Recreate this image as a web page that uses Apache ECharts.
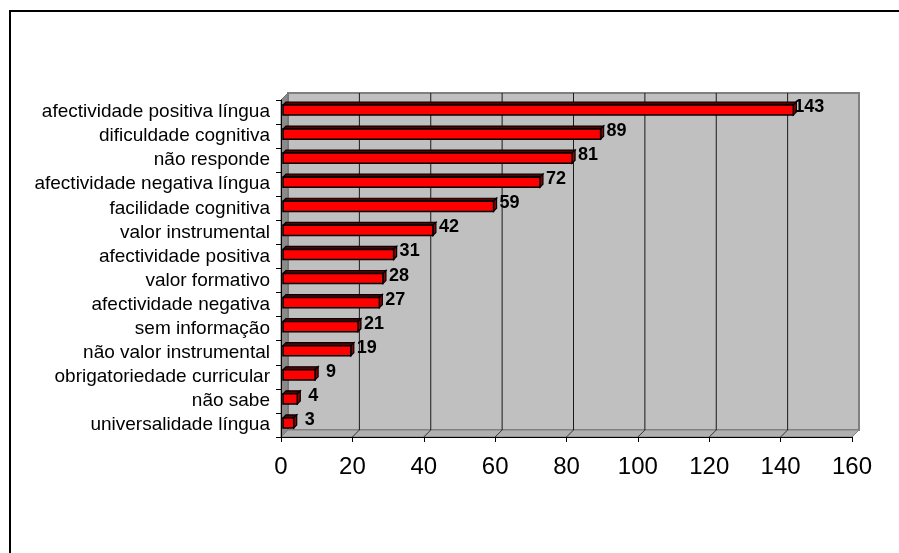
<!DOCTYPE html>
<html>
<head>
<meta charset="utf-8">
<script src="https://cdn.jsdelivr.net/npm/echarts@6/dist/echarts.min.js"></script>
<style>
  html, body { margin: 0; padding: 0; background: #fff; }
  #chart { width: 899px; height: 553px; }
</style>
</head>
<body>
<div id="chart"></div>
<script>
// Categories (top to bottom) and their counts
const categories = [
  'afectividade positiva língua',
  'dificuldade cognitiva',
  'não responde',
  'afectividade negativa língua',
  'facilidade cognitiva',
  'valor instrumental',
  'afectividade positiva',
  'valor formativo',
  'afectividade negativa',
  'sem informação',
  'não valor instrumental',
  'obrigatoriedade curricular',
  'não sabe',
  'universalidade língua'
];
const counts = [143, 89, 81, 72, 59, 42, 31, 28, 27, 21, 19, 9, 4, 3];
const xTicks = [0, 20, 40, 60, 80, 100, 120, 140, 160];

const FONT = 'Liberation Sans, Arial, sans-serif';
const DEPTH = 7;      // depth of the 3D box (walls / floor)
const BAR_DEPTH = 3;  // depth of each bar

const chart = echarts.init(document.getElementById('chart'), null, { renderer: 'canvas' });

// Back wall, left wall, floor and gridlines of the 3D box
function renderBox(params, api) {
  if (params.dataIndex !== 0) return null;
  const cs = params.coordSys;
  const x = cs.x, y = cs.y, w = cs.width, h = cs.height, d = DEPTH;
  const children = [];
  children.push({
    type: 'rect',
    shape: { x: x + d, y: y - d, width: w, height: h },
    style: { fill: '#c0c0c0', stroke: '#808080', lineWidth: 2 }
  });
  children.push({
    type: 'polygon',
    shape: { points: [[x, y + h], [x, y], [x + d, y - d], [x + d, y + h - d]] },
    style: { fill: '#8a8a8a', stroke: '#707070', lineWidth: 1 }
  });
  children.push({
    type: 'polygon',
    shape: { points: [[x, y + h], [x + d, y + h - d], [x + w + d, y + h - d], [x + w, y + h]] },
    style: { fill: '#b0b0b0', stroke: '#808080', lineWidth: 1 }
  });
  xTicks.forEach(function (v) {
    if (v === 0 || v === xTicks[xTicks.length - 1]) return;
    const px = api.coord([v, 0])[0];
    children.push({
      type: 'line',
      shape: { x1: px + d, y1: y - d, x2: px + d, y2: y + h - d },
      style: { stroke: '#1a1a1a', lineWidth: 1 }
    });
    children.push({
      type: 'line',
      shape: { x1: px, y1: y + h, x2: px + d, y2: y + h - d },
      style: { stroke: '#333', lineWidth: 1 }
    });
  });
  return { type: 'group', children: children };
}

// Each bar: front face, top face, end face and its value label
function renderBar(params, api) {
  const val = api.value(0);
  const idx = api.value(1);
  const start = api.coord([0, idx]);
  const end = api.coord([val, idx]);
  const band = api.size([0, 1])[1];
  const fh = band * 0.42;
  const s = 2;
  const cy = start[1] - 2;
  const x0 = start[0] + s, x1 = end[0] + s;
  const yt = cy - fh / 2, yb = cy + fh / 2;
  const b = BAR_DEPTH;
  return {
    type: 'group',
    children: [
      {
        type: 'polygon',
        shape: { points: [[x0, yt], [x1, yt], [x1 + b, yt - b], [x0 + b, yt - b]] },
        style: { fill: '#5a0000', stroke: '#000', lineWidth: 1.2 }
      },
      {
        type: 'polygon',
        shape: { points: [[x1, yt], [x1 + b, yt - b], [x1 + b, yb - b], [x1, yb]] },
        style: { fill: '#900000', stroke: '#000', lineWidth: 1.2 }
      },
      {
        type: 'rect',
        shape: { x: x0, y: yt, width: x1 - x0, height: fh },
        style: { fill: '#ff0000', stroke: '#000', lineWidth: 1.5 }
      },
      {
        type: 'text',
        style: {
          x: x1 + 16, y: cy - 3,
          text: String(val),
          align: 'center', verticalAlign: 'middle',
          font: 'bold 18px ' + FONT,
          fill: '#000'
        }
      }
    ]
  };
}

chart.setOption({
  animation: false,
  backgroundColor: '#fff',
  graphic: [
    {
      type: 'polyline',
      shape: { points: [[10, 560], [10, 11], [905, 11]] },
      style: { stroke: '#000', lineWidth: 2, fill: null },
      z: 10
    }
  ],
  grid: { left: 281, top: 100, width: 571, height: 337, containLabel: false },
  xAxis: {
    type: 'value',
    min: 0, max: 160, interval: 20,
    axisLine: { show: true, lineStyle: { color: '#000', width: 1 } },
    axisTick: { show: true, length: 5, lineStyle: { color: '#000' } },
    splitLine: { show: false },
    axisLabel: { fontFamily: FONT, fontSize: 24, color: '#000', margin: 18 },
    z: 5
  },
  yAxis: {
    type: 'category',
    data: categories,
    inverse: true,
    axisLine: { show: true, lineStyle: { color: '#000', width: 1 } },
    axisTick: { show: true, length: 5, interval: 0, lineStyle: { color: '#000' } },
    axisLabel: {
      interval: 0, fontFamily: FONT, fontSize: 19, color: '#000',
      margin: 11, padding: [0, 0, 6, 0]
    },
    z: 5
  },
  series: [
    {
      type: 'custom',
      renderItem: renderBox,
      data: [[0, 0]],
      silent: true,
      z: 1
    },
    {
      type: 'custom',
      renderItem: renderBar,
      data: counts.map(function (v, i) { return [v, i]; }),
      encode: { x: 0, y: 1 },
      z: 3
    }
  ]
});
</script>
</body>
</html>
